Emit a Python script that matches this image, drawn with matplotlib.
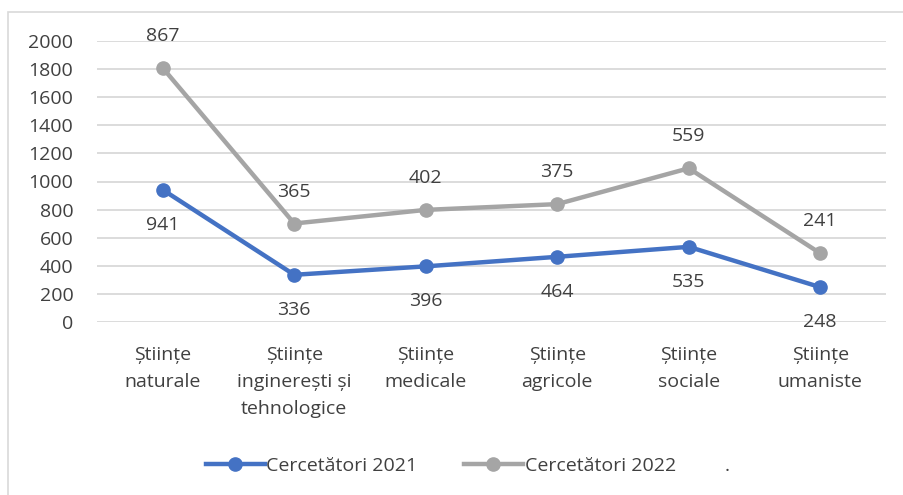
import matplotlib
matplotlib.use("Agg")
import matplotlib.pyplot as plt
from matplotlib.lines import Line2D
from matplotlib.patches import Rectangle
import numpy as np

plt.rcParams['font.family'] = ['Open Sans', 'DejaVu Sans']

categories = ["Științe\nnaturale", "Științe\ninginerești și\ntehnologice",
              "Științe\nmedicale", "Științe\nagricole", "Științe\nsociale",
              "Științe\numaniste"]
res_2021 = [941, 336, 396, 464, 535, 248]
res_2022 = [867, 365, 402, 375, 559, 241]
series_names = ["Cercetători 2021", "Cercetători 2022"]

BLUE = "#4472C4"
GRAY = "#A5A5A5"
TXT = "#404040"
FS = 14

fig = plt.figure(figsize=(9.04, 4.95), dpi=100)
fig.patches.append(Rectangle((8 / 904, -0.05), 1.1, 1 - 12 / 495 + 0.05,
                             transform=fig.transFigure, fill=False,
                             edgecolor="#d9d9d9", linewidth=1.2))
ax = fig.add_axes([97 / 904, 1 - 322 / 495, (886 - 97) / 904, (322 - 41) / 495])

x = np.arange(len(categories))
stacked = np.array(res_2021) + np.array(res_2022)

ax.plot(x, res_2021, color=BLUE, lw=3.2, marker="o", ms=9.5, zorder=3)
ax.plot(x, stacked, color=GRAY, lw=3.2, marker="o", ms=9.5, zorder=3)

for xi, v in zip(x, res_2021):
    ax.annotate(str(v), (xi, v), xytext=(0, -25), textcoords="offset points",
                ha="center", va="center", fontsize=FS, color=TXT)
for xi, v, s in zip(x, res_2022, stacked):
    ax.annotate(str(v), (xi, s), xytext=(0, 23), textcoords="offset points",
                ha="center", va="center", fontsize=FS, color=TXT)

ax.set_xlim(-0.5, len(categories) - 0.5)
ax.set_ylim(0, 2000)
ax.set_yticks(range(0, 2001, 200))
ax.set_xticks(x)
ax.set_xticklabels(categories, linespacing=1.65)
ax.tick_params(axis="both", length=0, labelsize=FS, labelcolor=TXT)
ax.tick_params(axis="y", pad=17)
ax.tick_params(axis="x", pad=17)
ax.grid(axis="y", color="#d9d9d9", lw=1.3)
ax.set_axisbelow(True)
for sp in ax.spines.values():
    sp.set_visible(False)

handles = [Line2D([], [], color=BLUE, lw=3.2, marker="o", ms=9.5),
           Line2D([], [], color=GRAY, lw=3.2, marker="o", ms=9.5)]
fig.legend(handles, series_names, loc="center", bbox_to_anchor=(441 / 904, 1 - 466 / 495),
           ncol=2, frameon=False, fontsize=FS, handlelength=3.0,
           handletextpad=0.1, columnspacing=2.4, labelcolor=TXT)
fig.text(727 / 904, 1 - 466 / 495, ".", ha="center", va="center",
         fontsize=FS, color=TXT)

fig.savefig("out.png", dpi=100)
